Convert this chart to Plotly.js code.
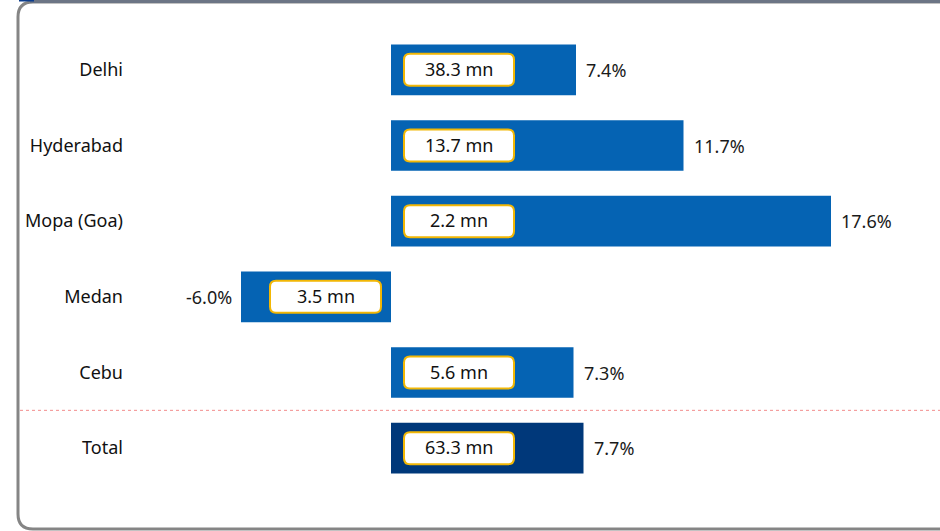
<!DOCTYPE html>
<html>
<head>
<meta charset="utf-8">
<script src="https://cdn.plot.ly/plotly-3.0.1.min.js"></script>
<style>html,body{margin:0;padding:0;background:#fff;}#chart{width:940px;height:531px;}</style>
</head>
<body>
<div id="chart"></div>
<script>
const categories = ["Delhi", "Hyderabad", "Mopa (Goa)", "Medan", "Cebu", "Total"];
const growthPct = [7.4, 11.7, 17.6, -6.0, 7.3, 7.7];
const growthLabels = ["7.4%", "11.7%", "17.6%", "-6.0%", "7.3%", "7.7%"];
const trafficLabels = ["38.3 mn", "13.7 mn", "2.2 mn", "3.5 mn", "5.6 mn", "63.3 mn"];

const BLUE = "#0563B3", NAVY = "#00387A", GOLD = "#F2B705";
const FONT = "Noto Sans";
const idx = categories.map((c, i) => i);

// plot area geometry (pixels)
const L = 141, R = 49, T = 32, B = 45, W = 940 - L - R, H = 531 - T - B;
const px2x = p => (p - L) / W;
const py2y = p => (531 - B - p) / H;

function roundRect(x0, x1, y0, y1, r) {
  return `M ${x0 + r},${y0} L ${x1 - r},${y0} Q ${x1},${y0} ${x1},${y0 + r} L ${x1},${y1 - r} Q ${x1},${y1} ${x1 - r},${y1} L ${x0 + r},${y1} Q ${x0},${y1} ${x0},${y1 - r} L ${x0},${y0 + r} Q ${x0},${y0} ${x0 + r},${y0} Z`;
}

const trace = {
  type: "bar",
  orientation: "h",
  y: idx,
  x: growthPct,
  width: 0.67,
  marker: { color: categories.map(c => c === "Total" ? NAVY : BLUE), line: { width: 0 } },
  hoverinfo: "skip"
};

const shapes = [];
const annotations = [];

idx.forEach(i => {
  const neg = growthPct[i] < 0;
  const bx0 = neg ? -121 : 13, bx1 = neg ? -10 : 123;
  shapes.push({
    type: "path", xref: "x", yref: "y", xsizemode: "pixel", ysizemode: "pixel",
    xanchor: 0, yanchor: i,
    path: roundRect(bx0, bx1, -16, 16, 6),
    fillcolor: "#ffffff", line: { color: GOLD, width: 2 }
  });
  annotations.push({
    x: 0, y: i, xref: "x", yref: "y", showarrow: false,
    xshift: (bx0 + bx1) / 2, yshift: 1, text: trafficLabels[i],
    font: { family: FONT, size: 18, color: "#111111" }
  });
  annotations.push({
    x: growthPct[i], y: i, xref: "x", yref: "y", showarrow: false,
    xanchor: neg ? "right" : "left", xshift: neg ? -7 : 8, yshift: 0,
    text: growthLabels[i],
    font: { family: FONT, size: 18, color: "#1a1a1a" }
  });
});

// red dotted separator between Cebu and Total
shapes.push({
  type: "line", xref: "paper", yref: "y", x0: px2x(20), x1: px2x(942), y0: 4.5, y1: 4.5,
  line: { color: "#F28C8C", width: 1, dash: "dot" }
});

// rounded outer frame
const fx = px2x, fy = py2y;
const fr = 15;
shapes.push({
  type: "path", xref: "paper", yref: "paper",
  path: `M ${fx(960)},${fy(2)} L ${fx(18 + fr)},${fy(2)} Q ${fx(18)},${fy(2)} ${fx(18)},${fy(2 + fr)} L ${fx(18)},${fy(529 - fr)} Q ${fx(18)},${fy(529)} ${fx(18 + fr)},${fy(529)} L ${fx(960)},${fy(529)}`,
  line: { color: "#858585", width: 3 }
});
shapes.push({
  type: "line", xref: "paper", yref: "paper", x0: fx(30), x1: fx(960), y0: fy(1.5), y1: fy(1.5),
  line: { color: "#6C7585", width: 3 }
});
shapes.push({
  type: "line", xref: "paper", yref: "paper", x0: fx(19), x1: fx(34), y0: fy(0.5), y1: fy(0.5),
  line: { color: "#0B3C8C", width: 2 }
});

const layout = {
  width: 940, height: 531,
  margin: { l: L, r: R, t: T, b: B, pad: 0 },
  paper_bgcolor: "#ffffff", plot_bgcolor: "#ffffff",
  showlegend: false,
  xaxis: { range: [-10, 20], visible: false, showgrid: false, zeroline: false, fixedrange: true },
  yaxis: {
    range: [5.5, -0.5], tickvals: idx, ticktext: categories,
    showgrid: false, zeroline: false, showline: false, ticks: "",
    ticklabelstandoff: 17,
    tickfont: { family: FONT, size: 18, color: "#111111" }, fixedrange: true
  },
  shapes: shapes,
  annotations: annotations
};

Plotly.newPlot("chart", [trace], layout, { displayModeBar: false, staticPlot: true });
</script>
</body>
</html>
